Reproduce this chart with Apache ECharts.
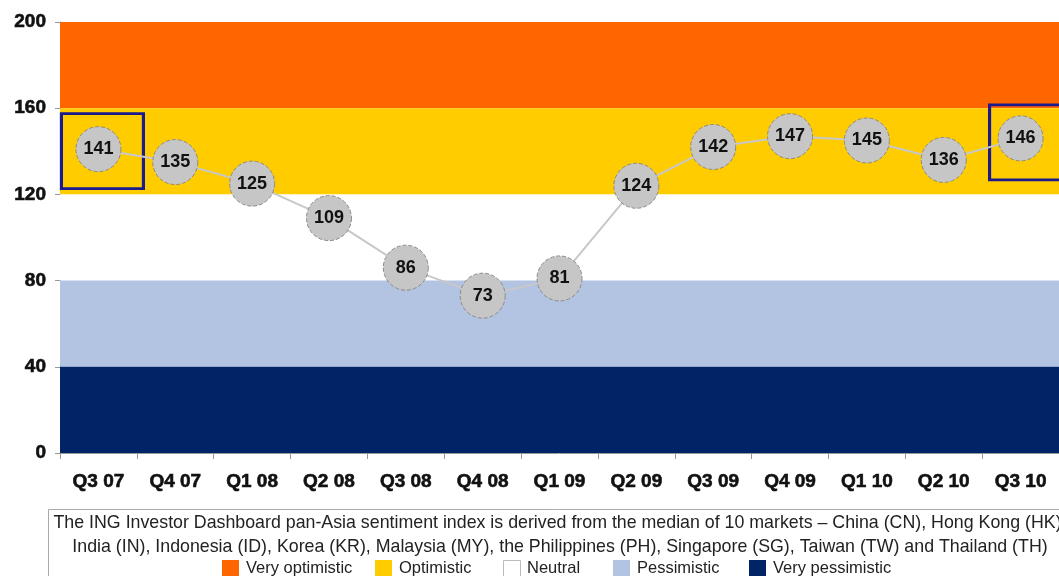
<!DOCTYPE html>
<html><head><meta charset="utf-8">
<script src="https://cdn.jsdelivr.net/npm/echarts@6/dist/echarts.min.js"></script>
<style>html,body{margin:0;padding:0;background:#fff}#c{width:1059px;height:576px}</style>
</head><body><div id="c"></div>
<script>
var categories = ['Q3 07','Q4 07','Q1 08','Q2 08','Q3 08','Q4 08','Q1 09','Q2 09','Q3 09','Q4 09','Q1 10','Q2 10','Q3 10'];
var sentiment = [141,135,125,109,86,73,81,124,142,147,145,136,146];
var yTicks = {min:0, max:200, interval:40};
var bandNames = ['Very optimistic','Optimistic','Neutral','Pessimistic','Very pessimistic'];
var bandRanges = [[160,200],[120,160],[80,120],[40,80],[0,40]];
var bandColors = ['#ff6600','#ffcc00','#ffffff','#b3c3e2','#002466'];
var highlighted = [0,12];
var noteLine1 = 'The ING Investor Dashboard pan-Asia sentiment index is derived from the median of 10 markets \u2013 China (CN), Hong Kong (HK),';
var noteLine2 = 'India (IN), Indonesia (ID), Korea (KR), Malaysia (MY), the Philippines (PH), Singapore (SG), Taiwan (TW) and Thailand (TH)';

var chart = echarts.init(document.getElementById('c'));
var font = 'Liberation Sans, Arial, sans-serif';

var legendX = [222, 375, 503, 613, 749];
var legendGraphics = [];
bandNames.forEach(function(n,i){
  legendGraphics.push({type:'rect', left:legendX[i], top:560, shape:{width:17,height:17},
    style:{fill:bandColors[i], stroke: i===2 ? '#bbb' : null, lineWidth:1}});
  legendGraphics.push({type:'text', left:legendX[i]+24, top:560,
    style:{text:n, font:'16.5px '+font, fill:'#222'}});
});

var boxOffsets = [[4,2],[10,4]];

chart.setOption({
  animation:false,
  grid:{left:60, top:22, width:1010, height:431},
  xAxis:{type:'category', data:categories, boundaryGap:true,
    axisLine:{lineStyle:{color:'#999'}},
    axisTick:{show:true, interval:0, length:6, lineStyle:{color:'#999'}},
    axisLabel:{interval:0, margin:19, fontFamily:font, fontWeight:'bold', fontSize:19, color:'#111',
      textBorderColor:'#111', textBorderWidth:0.6}},
  yAxis:{type:'value', min:yTicks.min, max:yTicks.max, interval:yTicks.interval,
    splitLine:{show:false},
    axisLine:{show:true, lineStyle:{color:'#999'}},
    axisTick:{show:true, length:5, lineStyle:{color:'#999'}},
    axisLabel:{margin:14, fontFamily:font, fontWeight:'bold', fontSize:19, color:'#111',
      textBorderColor:'#111', textBorderWidth:0.6}},
  series:[
    {type:'line', data:sentiment, z:3,
      lineStyle:{color:'#c8c8c8', width:2},
      symbol:'circle', symbolSize:45,
      itemStyle:{color:'#c6c6c6', borderColor:'#8a8a8a', borderWidth:1, borderType:'dashed'},
      label:{show:true, position:'inside', fontFamily:font, fontWeight:'bold', fontSize:18, color:'#111'},
      markArea:{silent:true, itemStyle:{opacity:1},
        data: bandRanges.map(function(r,i){
          return [{yAxis:r[0], itemStyle:{color:bandColors[i]}},{yAxis:r[1]}];
        })}
    },
    {type:'scatter', z:2, silent:true,
      data: highlighted.map(function(i,k){ return {value:[i, sentiment[i]], symbolOffset:boxOffsets[k]}; }),
      symbol:'rect', symbolSize:[82,75],
      itemStyle:{color:'rgba(0,0,0,0)', borderColor:'#1a1a8c', borderWidth:3, opacity:1}}
  ],
  graphic:[
    {type:'rect', left:48, top:509, shape:{width:1030,height:80}, style:{fill:'#fff', stroke:'#aaa', lineWidth:1}},
    {type:'text', x:560, y:514, style:{text:noteLine1, font:'17.8px '+font, fill:'#222', align:'center'}},
    {type:'text', x:560, y:538, style:{text:noteLine2, font:'17.8px '+font, fill:'#222', align:'center'}}
  ].concat(legendGraphics)
});
</script></body></html>
